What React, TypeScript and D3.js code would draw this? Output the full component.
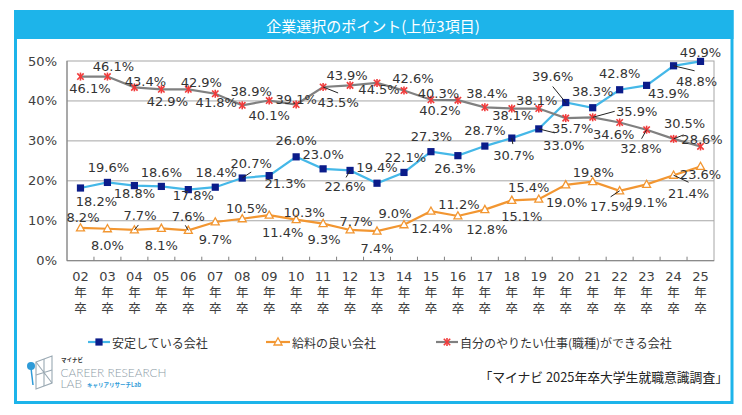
import React from 'react';
import * as d3 from 'd3';

const categories = ['02','03','04','05','06','07','08','09','10','11','12','13','14','15','16','17','18','19','20','21','22','23','24','25'];
const stable = [18.2,19.6,18.8,18.6,17.8,18.4,20.7,21.3,26.0,23.0,22.6,19.4,22.1,27.3,26.3,28.7,30.7,33.0,39.6,38.3,42.8,43.9,48.8,49.9];
const salary = [8.2,8.0,7.7,8.1,7.6,9.7,10.5,11.4,10.3,9.3,7.7,7.4,9.0,12.4,11.2,12.8,15.1,15.4,19.0,19.8,17.5,19.1,21.4,23.6];
const wantJob = [46.1,46.1,43.4,42.9,42.9,41.8,38.9,40.1,39.1,43.5,43.9,44.5,42.6,40.3,40.2,38.4,38.1,38.1,35.7,35.9,34.6,32.8,30.5,28.6];
const yTicks = [0,10,20,30,40,50];
const seriesNames = ['安定している会社','給料の良い会社','自分のやりたい仕事(職種)ができる会社'];
const titleText = '企業選択のポイント(上位3項目)';
const sourceText = '「マイナビ 2025年卒大学生就職意識調査」';

// label layout (offset of label centre from its point)
const stableOff: [number, number][] = [[16,13],[1,-15],[0,8],[0,-14],[5,6],[1,-15],[9,-15],[16,8],[0,-16],[0,-14.5],[-5,16],[0,-15.5],[1.5,-15],[0.5,-15],[-3,12.6],[0,-15.4],[2,17],[25,17],[-13,-26],[0,-16],[0,-16.5],[22,8],[23,16],[0,-9]];
const salaryOff: [number, number][] = [[2.5,-10],[0,17],[5.6,-14],[0,17.4],[0,-13.6],[0,18],[4.5,-10.5],[13.5,17],[8,-7],[1,16.4],[6,-8],[0,17],[-9,-11.5],[1,17],[1,-11],[2,20],[10,16],[-10,-12],[1,17.5],[0.6,-9],[-9,16],[0,18],[15,18],[0,7.6]];
const wantOff: [number, number][] = [[9.5,11.7],[6,-10],[11,-6],[6,12],[13,-7],[1,9],[9,-14],[0,15],[0,-5],[15,16],[-3,-10],[2,7],[9,-12],[7.5,-6],[-18,10],[2,-14],[1,6.5],[-2,-8.5],[7,10],[44,-6],[-6,12],[-5.6,18.6],[11,-15],[1.5,-6.5]];
// leader lines: index -> end offset from the point
const stableLead: Record<number, [number, number]> = {6:[9,-6],10:[-4,7],16:[1,6],17:[16,4],18:[-13,-16],22:[21,5]};
const salaryLead: Record<number, [number, number]> = {2:[4,-5],4:[-3,-5],20:[-9,6],22:[15,7]};
const wantLead: Record<number, [number, number]> = {9:[15,6],19:[22,-6],21:[-5,9],22:[10,-4]};

const W = 742, H = 415;
const M = { left: 67, right: 714, top: 61, bottom: 260.7 };
const CYAN = '#1DB4EA';
const BLUE_LINE = '#45B8E8';
const NAVY = '#0B1C8A';
const ORANGE = '#F29631';
const GRAY_LINE = '#808080';
const RED = '#F03A3A';
const NUM_FONT = 'DejaVu Sans, Verdana, sans-serif';
const CJK_FONT = '"Noto Sans CJK JP", "Noto Sans", sans-serif';

function Square({ x, y }: { x: number; y: number }) {
  return <rect x={x - 3.6} y={y - 3.6} width={7.2} height={7.2} fill={NAVY} />;
}
function Tri({ x, y }: { x: number; y: number }) {
  return <path d={`M${x},${y - 4.2} L${x + 4},${y + 3} L${x - 4},${y + 3} Z`} fill="#fff" stroke={ORANGE} strokeWidth={1.3} />;
}
function Star({ x, y }: { x: number; y: number }) {
  const s = 3.2;
  return (
    <g stroke={RED} strokeWidth={1.6}>
      <line x1={x - s} y1={y - s} x2={x + s} y2={y + s} />
      <line x1={x - s} y1={y + s} x2={x + s} y2={y - s} />
      <line x1={x} y1={y - s - 0.8} x2={x} y2={y + s + 0.8} />
    </g>
  );
}

export default function App() {
  const x = d3.scaleBand<string>().domain(categories).range([M.left, M.right]);
  const y = d3.scaleLinear().domain([0, 50]).range([M.bottom, M.top]);
  const cx = (i: number) => (x(categories[i]) as number) + x.bandwidth() / 2;
  const line = d3.line<number>().x((_, i) => cx(i)).y((d) => y(d));

  const series = [
    { vals: stable, color: BLUE_LINE, off: stableOff, lead: stableLead, M: Square },
    { vals: salary, color: ORANGE, off: salaryOff, lead: salaryLead, M: Tri },
    { vals: wantJob, color: GRAY_LINE, off: wantOff, lead: wantLead, M: Star },
  ];

  const legendItems = [
    { x0: 88, x1: 110, tx: 112, color: BLUE_LINE, M: Square },
    { x0: 266, x1: 290, tx: 292, color: ORANGE, M: Tri },
    { x0: 436, x1: 458, tx: 460, color: GRAY_LINE, M: Star },
  ];

  return (
    <div style={{ position: 'absolute', left: 0, top: 0 }}>
      <svg width={W} height={H} style={{ display: 'block', background: '#fff' }}>
        {/* frame */}
        <rect x={15.5} y={11.5} width={716.5} height={391} fill="#fff" stroke={CYAN} strokeWidth={3} />
        <rect x={14} y={10} width={719.5} height={29} fill={CYAN} />
        <text x={373} y={25} fill="#fff" fontSize={15} fontFamily={CJK_FONT} textAnchor="middle" dominantBaseline="central">{titleText}</text>

        {/* grid */}
        {yTicks.map((t) => (
          <g key={t}>
            {t > 0 && t < 50 && <line x1={M.left} x2={M.right} y1={y(t)} y2={y(t)} stroke="#A6A6A6" strokeWidth={1} />}
            <text x={57} y={y(t)} fontSize={13} fontFamily={NUM_FONT} fill="#404040" textAnchor="end" dominantBaseline="central">{t}%</text>
          </g>
        ))}
        <rect x={M.left} y={M.top} width={M.right - M.left} height={M.bottom - M.top} fill="none" stroke="#A6A6A6" strokeWidth={1} />
        <line x1={M.left} x2={M.right} y1={M.bottom} y2={M.bottom} stroke="#808080" strokeWidth={1} />
        <line x1={M.left} x2={M.left} y1={M.top} y2={M.bottom} stroke="#808080" strokeWidth={1} />
        {categories.map((c, i) => (
          <g key={c}>
            {i > 0 && <line x1={x(c)} x2={x(c)} y1={M.bottom} y2={M.bottom - 4} stroke="#808080" />}
            <text x={cx(i)} y={276} fontSize={13} fontFamily={NUM_FONT} fill="#404040" textAnchor="middle" dominantBaseline="central">{c}</text>
            <text x={cx(i)} y={291.5} fontSize={12.5} fontFamily={CJK_FONT} fill="#404040" textAnchor="middle" dominantBaseline="central">年</text>
            <text x={cx(i)} y={307} fontSize={12.5} fontFamily={CJK_FONT} fill="#404040" textAnchor="middle" dominantBaseline="central">卒</text>
          </g>
        ))}

        {/* lines */}
        {series.map((s, k) => (
          <path key={k} d={line(s.vals) as string} fill="none" stroke={s.color} strokeWidth={2.2} />
        ))}
        {series.map((s, k) => (
          <g key={k}>
            {s.vals.map((v, i) => <s.M key={i} x={cx(i)} y={y(v)} />)}
          </g>
        ))}
        {/* leaders */}
        {series.map((s, k) => (
          <g key={k} stroke="#222" strokeWidth={1}>
            {Object.entries(s.lead).map(([i, e]) => {
              const px = cx(+i), py = y(s.vals[+i]);
              return <line key={i} x1={px} y1={py} x2={px + e[0]} y2={py + e[1]} />;
            })}
          </g>
        ))}
        {/* labels */}
        {series.map((s, k) => (
          <g key={k}>
            {s.vals.map((v, i) => (
              <text key={i} x={cx(i) + s.off[i][0]} y={y(v) + s.off[i][1]} fontSize={13} fontFamily={NUM_FONT} fill="#333" textAnchor="middle" dominantBaseline="central">{v.toFixed(1)}%</text>
            ))}
          </g>
        ))}

        {/* legend */}
        {legendItems.map((l, k) => (
          <g key={k}>
            <line x1={l.x0} x2={l.x1} y1={342} y2={342} stroke={l.color} strokeWidth={2.2} />
            <l.M x={(l.x0 + l.x1) / 2} y={342} />
            <text x={l.tx} y={342} fontSize={12} fontFamily={CJK_FONT} fill="#333" dominantBaseline="central">{seriesNames[k]}</text>
          </g>
        ))}

        {/* logo */}
        <g fill="none" stroke="#9AA9B3" strokeWidth={1.1}>
          <path d="M36,362 L52,356 L52,383 L36,389 Z" />
          <path d="M36,362 L52,383 M44,359 L44,386 M36,375 L52,370" />
        </g>
        <line x1={31} y1={368} x2={33} y2={385} stroke="#2E9BD8" strokeWidth={1.5} />
        <circle cx={31} cy={366} r={4} fill="#2E9BD8" />
        <text x={61} y={362} fontSize={5.5} fontWeight="bold" fontFamily={CJK_FONT} fill="#333">マイナビ</text>
        <text x={60.5} y={376.5} fontSize={12} fontFamily="Lato, 'Open Sans', sans-serif" fontWeight={300} fill="#8C9BA6" textLength={106} lengthAdjust="spacingAndGlyphs">CAREER RESEARCH</text>
        <text x={60.5} y={388} fontSize={12} fontFamily="Lato, 'Open Sans', sans-serif" fontWeight={300} fill="#8C9BA6">LAB</text>
        <text x={87} y={386.5} fontSize={5.5} fontWeight="bold" fontFamily={CJK_FONT} fill="#2E9BD8">キャリアリサーチLab</text>

        <text x={728} y={376} fontSize={12.8} fontFamily={CJK_FONT} fill="#222" textAnchor="end" dominantBaseline="central">{sourceText}</text>
      </svg>
    </div>
  );
}
